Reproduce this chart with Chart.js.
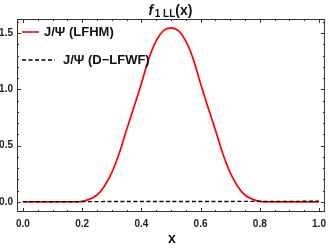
<!DOCTYPE html>
<html><head><meta charset="utf-8">
<script src="https://cdn.jsdelivr.net/npm/chart.js@4.4.1/dist/chart.umd.min.js"></script>
<style>html,body{margin:0;padding:0;background:#fff;}canvas{display:block;}</style>
</head><body>
<canvas id="c" width="332" height="248"></canvas>
<script>
const xValues = [0,0.025,0.05,0.075,0.1,0.125,0.15,0.175,0.2,0.225,0.25,0.275,0.3,0.325,0.35,0.375,0.4,0.425,0.45,0.475,0.5,0.525,0.55,0.575,0.6,0.625,0.65,0.675,0.7,0.725,0.75,0.775,0.8,0.825,0.85,0.875,0.9,0.925,0.95,0.975,1];
const lfhm = [0,0,0,0,0,0,0,0,0.006,0.025,0.062,0.14,0.26,0.43,0.64,0.84,1.05,1.27,1.43,1.52,1.545,1.52,1.43,1.27,1.05,0.84,0.64,0.43,0.26,0.14,0.062,0.025,0.006,0,0,0,0,0,0,0,0];
const dlfwfX = [0,0.5,1];
const dlfwf = [0.003,0.004,0.006];
const seriesNames = ['J/Ψ (LFHM)','J/Ψ (D\u2212LFWF)'];
const xTicks = [0,0.2,0.4,0.6,0.8,1.0];
const yTicks = [0,0.5,1.0,1.5];
const xMinor = 0.05, yMinor = 0.1;

const FONT = '"Liberation Sans", Arial, sans-serif';

const framePlugin = {
  id:'frame',
  afterDatasetsDraw(chart){
    const ctx = chart.ctx, a = chart.chartArea;
    const xs = chart.scales.x, ys = chart.scales.y;
    ctx.save();
    ctx.strokeStyle = '#333';
    ctx.lineWidth = 1;
    ctx.strokeRect(a.left+0.5, a.top+0.5, a.right-a.left-1, a.bottom-a.top-1);
    ctx.beginPath();
    for (let v = 0; v <= 1.0001; v += xMinor) {
      const vv = Math.round(v*1000)/1000;
      const isMaj = xTicks.some(t => Math.abs(t-vv) < 1e-6);
      const len = isMaj ? 4 : 2;
      const px = Math.round(xs.getPixelForValue(vv)) + 0.5;
      ctx.moveTo(px, a.bottom); ctx.lineTo(px, a.bottom - len);
      ctx.moveTo(px, a.top); ctx.lineTo(px, a.top + len);
    }
    for (let v = 0; v <= 1.6001; v += yMinor) {
      const vv = Math.round(v*1000)/1000;
      const isMaj = yTicks.some(t => Math.abs(t-vv) < 1e-6);
      const len = isMaj ? 4 : 2;
      const py = Math.round(ys.getPixelForValue(vv)) + 0.5;
      ctx.moveTo(a.left, py); ctx.lineTo(a.left + len, py);
      ctx.moveTo(a.right, py); ctx.lineTo(a.right - len, py);
    }
    ctx.stroke();

    // legend
    ctx.textBaseline = 'middle';
    ctx.fillStyle = '#111';
    ctx.font = 'bold 13px ' + FONT;
    ctx.strokeStyle = '#ff0000'; ctx.lineWidth = 1.6;
    ctx.beginPath(); ctx.moveTo(22, 32); ctx.lineTo(39, 32); ctx.stroke();
    ctx.fillText(seriesNames[0], 44, 32);
    ctx.strokeStyle = '#000'; ctx.lineWidth = 1.4; ctx.setLineDash([4,2.5]);
    ctx.beginPath(); ctx.moveTo(22, 60); ctx.lineTo(55, 60); ctx.stroke();
    ctx.setLineDash([]);
    ctx.fillText(seriesNames[1], 63, 60);

    // title f_{1 LL}(x)
    ctx.textBaseline = 'alphabetic';
    const f1 = 'bold italic 14px ' + FONT, f2 = 'bold 10px ' + FONT, f3 = 'bold 14px ' + FONT;
    ctx.font = f1; const w1 = ctx.measureText('f').width + 1.5;
    ctx.font = f2; const w2 = ctx.measureText('1 LL').width;
    ctx.font = f3; const w3 = ctx.measureText('(x)').width;
    let tx = 170.5 - (w1+w2+w3)/2; const ty = 15;
    ctx.font = f1; ctx.fillText('f', tx, ty); tx += w1;
    ctx.font = f2; ctx.fillText('1 LL', tx, ty+2); tx += w2;
    ctx.font = f3; ctx.fillText('(x)', tx, ty);

    // x axis title
    ctx.font = 'bold 14px ' + FONT; ctx.textAlign = 'center';
    ctx.fillText('x', 172, 243);
    ctx.restore();
  }
};

new Chart(document.getElementById('c'), {
  type:'line',
  data:{
    datasets:[
      {label:seriesNames[0], data:xValues.map((x,i)=>({x:x,y:lfhm[i]})), borderColor:'#ff0000', borderWidth:1.7, pointRadius:0, cubicInterpolationMode:'monotone', fill:false, order:2},
      {label:seriesNames[1], data:dlfwfX.map((x,i)=>({x:x,y:dlfwf[i]})), borderColor:'#000', borderWidth:1.4, borderDash:[4,2.5], pointRadius:0, fill:false, order:1}
    ]
  },
  options:{
    responsive:false, animation:false, devicePixelRatio:1,
    layout:{padding:{top:19,right:3,left:0,bottom:0}},
    plugins:{legend:{display:false}, tooltip:{enabled:false}, title:{display:false}},
    scales:{
      x:{type:'linear', min:-0.02, max:1.02,
         afterBuildTicks(s){ s.ticks = xTicks.map(v=>({value:v})); },
         afterFit(s){ s.height = 36; },
         grid:{display:false, drawTicks:false}, border:{display:false},
         ticks:{padding:6, maxRotation:0, autoSkip:false, color:'#222', font:{family:FONT, size:10, weight:'bold'}, callback:v=>Number(v).toFixed(1)}},
      y:{type:'linear', min:-0.089, max:1.624,
         afterBuildTicks(s){ s.ticks = yTicks.map(v=>({value:v})); },
         afterFit(s){ s.width = 17; },
         grid:{display:false, drawTicks:false}, border:{display:false},
         ticks:{padding:4, autoSkip:false, color:'#222', font:{family:FONT, size:10, weight:'bold'}, callback:v=>Number(v).toFixed(1)}}
    }
  },
  plugins:[framePlugin]
});
</script>
</body></html>
